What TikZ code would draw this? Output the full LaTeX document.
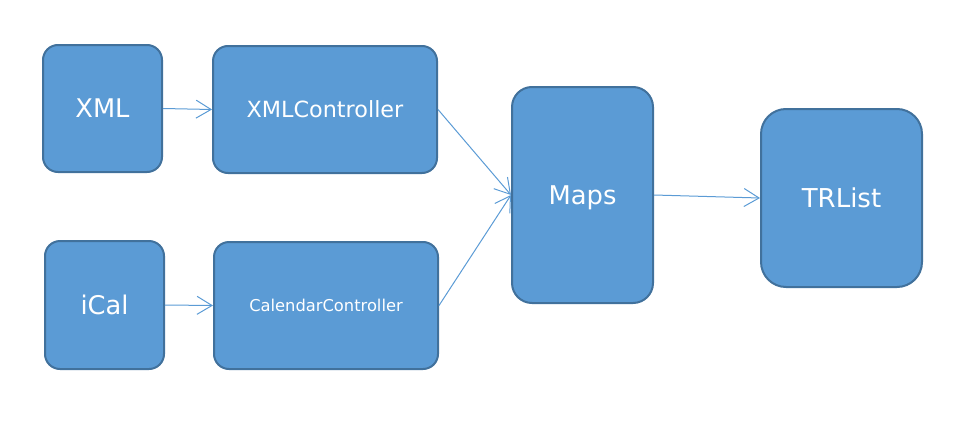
\documentclass[tikz,border=0pt]{standalone}
\usepackage{fontspec}
\setmainfont{DejaVu Sans}
\usetikzlibrary{arrows.meta}
\definecolor{boxfill}{HTML}{5B9BD5}
\definecolor{boxline}{HTML}{41719C}
\tikzset{
  box/.style={draw=boxline, line width=2pt, fill=boxfill, text=white, rounded corners=#1, inner sep=0pt, text depth=0pt},
  box/.default=15pt,
  conn/.style={draw=boxfill, line width=1pt, -{Straight Barb[length=15pt,width=18pt]}}
}
\begin{document}
\begin{tikzpicture}[x=1pt,y=-1pt]
\useasboundingbox (0,0) rectangle (971,423);
\node[box, minimum width=119pt, minimum height=127pt, font=\fontsize{25.7}{30}\selectfont] (xml) at (102.5,108.5) {XML};
\node[box, minimum width=224pt, minimum height=127pt, font=\fontsize{22.3}{26}\selectfont] (xmlc) at (325,109.5) {XMLController};
\node[box, minimum width=119pt, minimum height=128pt, font=\fontsize{25.7}{30}\selectfont] (ical) at (104.5,305) {iCal};
\node[box, minimum width=224pt, minimum height=127pt, font=\fontsize{16.3}{20}\selectfont] (calc) at (326,305.5) {CalendarController};
\node[box=20pt, minimum width=141pt, minimum height=216pt, font=\fontsize{25.8}{30}\selectfont] (maps) at (582.5,195) {Maps};
\node[box=25pt, minimum width=161pt, minimum height=178pt, font=\fontsize{26}{30}\selectfont] (tr) at (841.5,198) {TRList};
\draw[conn] (xml.east) -- (xmlc.west);
\draw[conn] (ical.east) -- (calc.west);
\draw[conn] (xmlc.east) -- (maps.west);
\draw[conn] (calc.east) -- (maps.west);
\draw[conn] (maps.east) -- (tr.west);
\end{tikzpicture}
\end{document}
